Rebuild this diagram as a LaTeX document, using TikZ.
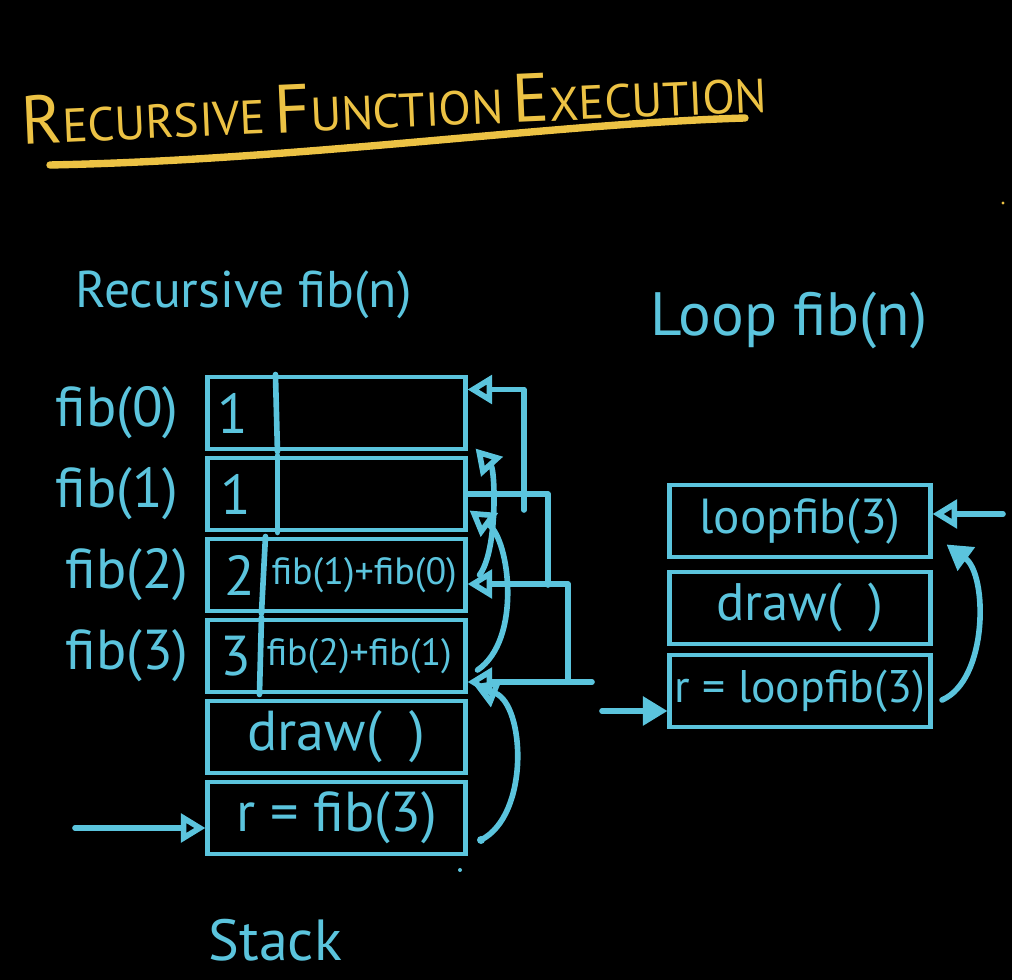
\documentclass[tikz,border=0pt]{standalone}
\usepackage{fontspec}
\setmainfont{PT Sans}
\usetikzlibrary{arrows.meta,positioning,calc}
\definecolor{ink}{HTML}{5BC4DD}
\definecolor{gold}{HTML}{ECC244}

\begin{document}
\begin{tikzpicture}[
  x=0.01cm, y=-0.01cm,
  every node/.style={text=ink, inner sep=0pt},
  frame/.style={draw=ink, line width=1.4pt, minimum width=2.57cm, minimum height=0.72cm},
  wire/.style={draw=ink, line width=1.6pt, line cap=round, line join=round},
  opentip/.style={-{Triangle[open, length=7pt, width=8pt]}},
  fulltip/.style={-{Triangle[length=7pt, width=8pt]}},
  lbl/.style={font=\fontsize{16}{19}\selectfont},
  num/.style={font=\fontsize{16}{19}\selectfont},
  expr/.style={font=\fontsize{10.8}{12}\selectfont},
  big/.style={font=\fontsize{14.7}{18}\selectfont}
]
  % page
  \fill[black] (0,0) rectangle (1012,980);
  \useasboundingbox (0,0) rectangle (1012,980);

  % Title + underline
  \node[text=gold, rotate=2.5] (title) at (394,104)
    {{\fontsize{19.5}{22}\selectfont R}{\fontsize{13.5}{16}\selectfont ECURSIVE}
     {\fontsize{19.5}{22}\selectfont F}{\fontsize{13.5}{16}\selectfont UNCTION}
     {\fontsize{19.5}{22}\selectfont E}{\fontsize{13.5}{16}\selectfont XECUTION}};
  \draw[draw=gold, line width=2.1pt, line cap=round]
    (50,165) .. controls (300,160) and (550,124) .. (745,118);
  \fill[gold] (1003,203) circle (1.6);

  % Headers
  \node[big, anchor=west] (hrec) at (75,295) {Recursive fib(n)};
  \node[font=\fontsize{17.4}{21}\selectfont, anchor=west] (hloop) at (650,320) {Loop fib(n)};
  \node[font=\fontsize{16.5}{20}\selectfont, anchor=west] (hstack) at (208,940) {Stack};

  % Recursive stack, top to bottom
  \node[frame] (f0) at (336.5,413) {};
  \node[frame] (f1) at (336.5,494) {};
  \node[frame] (f2) at (336.5,575) {};
  \node[frame] (f3) at (336.5,656) {};
  \node[frame, lbl] (dr) at (336.5,737) {draw(\,\,\,)};
  \node[frame, lbl] (rf) at (336.5,818) {r = fib(3)};

  % value | expression split
  \draw[wire] ($(f0.north west)+(70,0)$) -- ($(f0.south west)+(72,0)$);
  \draw[wire] ($(f1.north west)+(72,0)$) -- ($(f1.south west)+(72,0)$);
  \draw[wire] ($(f2.north west)+(60,0)$) -- ($(f2.south west)+(56,0)$);
  \draw[wire] ($(f3.north west)+(56,0)$) -- ($(f3.south west)+(54,0)$);
  \node[num] (v0) at (233,413) {1};
  \node[num] (v1) at (236,494) {1};
  \node[num] (v2) at (240,575) {2};
  \node[num] (v3) at (236,656) {3};
  \node[expr, anchor=west] (x2) at (271,575) {fib(1)+fib(0)};
  \node[expr, anchor=west] (x3) at (266,656) {fib(2)+fib(1)};

  % frame names
  \node[lbl, left=0.26cm of f0] (l0) {fib(0)};
  \node[lbl, left=0.26cm of f1] (l1) {fib(1)};
  \node[lbl, left=0.16cm of f2] (l2) {fib(2)};
  \node[lbl, left=0.16cm of f3] (l3) {fib(3)};

  % calls go up
  \coordinate (in1) at (75,828);
  \draw[wire, opentip] (in1) -- (in1 -| rf.west);
  \coordinate (c1) at (481,840);
  \fill[ink] (c1) circle (4);
  \fill[ink] (460,870) circle (2);
  \draw[wire, opentip] (c1) .. controls (530,815) and (525,705) .. ($(f3.south east)+(6,-10)$);
  \draw[wire, opentip] ($(f3.east)+(10,14)$) .. controls (522,640) and (510,540) .. ($(f1.south east)+(2,-22)$);
  \draw[wire, opentip] ($(f2.east)+(12,0)$) .. controls (498,550) and (495,470) .. ($(f1.north east)+(8,-7)$);

  % returns go back down
  \coordinate (k0) at (524,510);
  \coordinate (k1) at (548,585);
  \coordinate (k2) at (568,682);
  \coordinate (k3) at (592,682);
  \draw[wire, opentip] (k0) |- ($(f0.north east)+(0,15)$);
  \draw[wire] (f1.east) -| (k1);
  \draw[wire, opentip] (k2) |- ($(f2.east)+(0,9)$);
  \draw[wire, opentip] (k3) -- (k3 -| f3.east);

  % Loop stack
  \node[frame, minimum width=2.6cm, font=\fontsize{14}{17}\selectfont] (q0) at (800,521) {loopfib(3)};
  \node[frame, minimum width=2.6cm, font=\fontsize{15}{18}\selectfont] (q1) at (800,608) {draw(\,\,\,)};
  \node[frame, minimum width=2.6cm, font=\fontsize{13}{16}\selectfont] (q2) at (800,691) {r = loopfib(3)};

  \coordinate (in2) at (602,711);
  \draw[wire, fulltip] (in2) -- (in2 -| q2.west);
  \coordinate (in3) at (1003,514);
  \draw[wire, opentip] (in3) -- (in3 -| q0.east);
  \coordinate (c2) at (942,700);
  \draw[wire, fulltip] (c2) .. controls (988,680) and (988,575) .. ($(q0.south east)+(14,-15)$);
\end{tikzpicture}
\end{document}
